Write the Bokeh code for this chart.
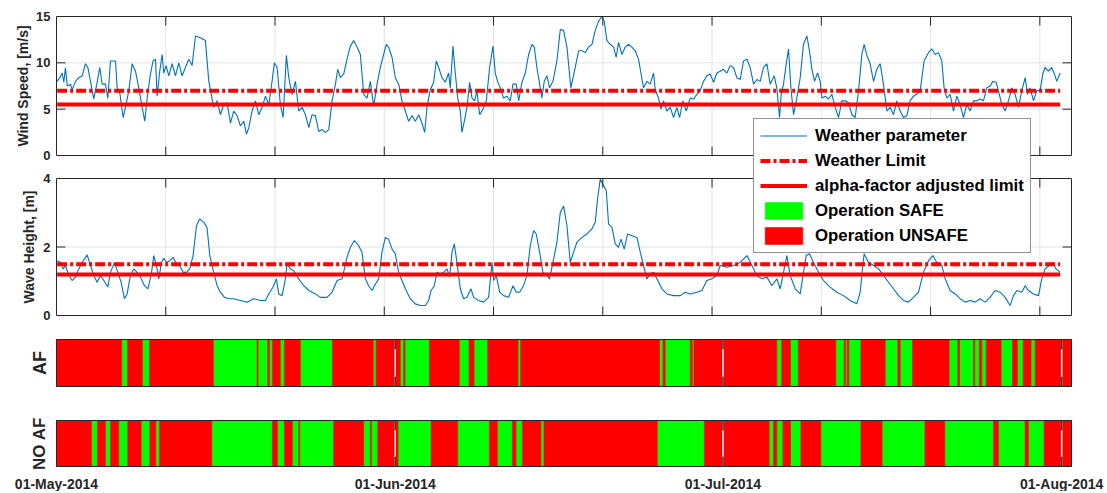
import numpy as np
import pandas as pd
from bokeh.plotting import figure
from bokeh.models import Range1d, Legend, LegendItem
from bokeh.core.properties import value
from bokeh.embed import file_html
from bokeh.resources import INLINE

# ------------------------------------------------------------------ data
start_date = "2014-05-01"
end_day = 92.9  # days after start shown on the time axis

wind_day = [0.06, 0.30, 0.52, 0.67, 0.82, 0.98, 1.28, 1.43, 1.74, 2.04, 2.35, 2.65, 2.87, 3.11, 3.41, 3.72,
            3.96, 4.18, 4.48, 4.70, 4.94, 5.40, 5.55, 5.79, 6.10, 6.31, 6.62, 6.92, 7.23, 7.53, 7.84, 8.08,
            8.30, 8.60, 8.84, 9.06, 9.21, 9.45, 9.67, 9.82, 10.03, 10.28, 10.58, 10.89, 11.19, 11.50, 11.80,
            12.11, 12.41, 12.72, 13.17, 13.63, 13.94, 14.39, 14.70, 15.00, 15.31, 15.61, 15.92, 16.22, 16.53,
            16.83, 17.14, 17.38, 17.60, 17.90, 18.21, 18.51, 18.82, 19.12, 19.43, 19.73, 19.94, 20.19, 20.49,
            20.74, 21.04, 21.26, 21.56, 21.87, 22.17, 22.48, 22.78, 23.09, 23.39, 23.70, 24.00, 24.31, 24.61,
            24.92, 25.22, 25.53, 25.74, 25.98, 26.29, 26.59, 26.90, 27.20, 27.51, 27.81, 28.12, 28.42, 28.73,
            29.03, 29.34, 29.64, 29.94, 30.19, 30.40, 30.71, 31.01, 31.32, 31.62, 31.93, 32.23, 32.54, 32.84,
            33.15, 33.45, 33.70, 33.91, 34.21, 34.52, 34.76, 34.98, 35.28, 35.59, 35.89, 36.04, 36.29, 36.50,
            36.72, 36.96, 37.11, 37.33, 37.57, 37.81, 38.03, 38.27, 38.48, 38.73, 39.03, 39.34, 39.64, 39.95,
            40.16, 40.37, 40.62, 40.92, 41.23, 41.53, 41.78, 42.08, 42.30, 42.60, 42.91, 43.21, 43.52, 43.73,
            43.97, 44.22, 44.43, 44.64, 44.89, 45.13, 45.44, 45.80, 46.11, 46.41, 46.72, 47.08, 47.48, 47.79,
            48.09, 48.40, 48.70, 49.01, 49.31, 49.62, 49.92, 50.13, 50.38, 50.68, 50.99, 51.23, 51.44, 51.75,
            52.05, 52.36, 52.66, 52.97, 53.27, 53.49, 53.73, 54.04, 54.34, 54.65, 54.80, 55.10, 55.32, 55.56,
            55.87, 56.17, 56.48, 56.78, 57.03, 57.33, 57.64, 58.00, 58.31, 58.61, 58.92, 59.22, 59.53, 59.83,
            60.14, 60.44, 60.75, 61.05, 61.36, 61.66, 61.97, 62.27, 62.58, 62.88, 63.19, 63.49, 63.80, 64.10,
            64.41, 64.71, 65.02, 65.32, 65.69, 65.93, 66.18, 66.33, 66.54, 66.79, 67.00, 67.22, 67.46, 67.76,
            68.07, 68.37, 68.68, 68.92, 69.14, 69.38, 69.66, 69.90, 70.05, 70.36, 70.66, 70.97, 71.27, 71.58,
            71.88, 72.19, 72.49, 72.80, 73.10, 73.41, 73.71, 73.92, 74.17, 74.47, 74.78, 75.08, 75.39, 75.69,
            76.00, 76.30, 76.61, 76.91, 77.22, 77.52, 77.83, 78.13, 78.44, 78.74, 79.05, 79.41, 79.81, 80.12,
            80.42, 80.73, 81.03, 81.24, 81.49, 81.79, 82.10, 82.40, 82.71, 83.01, 83.32, 83.62, 83.93, 84.23,
            84.54, 84.84, 85.15, 85.45, 85.70, 86.00, 86.21, 86.52, 86.82, 87.13, 87.44, 87.74, 88.05, 88.35,
            88.66, 88.87, 89.11, 89.42, 89.72, 90.03, 90.27, 90.48, 90.79, 91.09, 91.34, 91.55, 91.86]
wind_speed = [8.0, 8.4, 8.9, 7.9, 9.5, 7.5, 7.7, 7.1, 8.0, 8.4, 8.6, 9.9, 9.5, 8.0, 6.1, 7.9,
              9.5, 7.7, 7.7, 6.2, 10.2, 10.2, 7.3, 6.8, 4.1, 5.2, 7.0, 9.9, 9.1, 7.3, 5.2, 3.7,
              6.2, 8.8, 10.2, 10.4, 6.4, 9.1, 10.9, 8.9, 9.7, 8.6, 9.9, 8.6, 10.0, 8.6, 9.5,
              10.4, 9.7, 12.9, 12.7, 12.4, 8.0, 5.2, 5.9, 4.4, 5.5, 5.7, 3.5, 4.8, 4.3,
              3.2, 3.7, 2.3, 3.0, 4.8, 5.9, 4.4, 5.2, 6.4, 5.5, 8.0, 10.0, 9.5, 5.5,
              4.1, 10.8, 8.4, 6.6, 8.0, 4.8, 5.2, 4.4, 3.0, 4.4, 4.3, 2.6, 2.8, 2.5,
              2.8, 5.9, 7.7, 9.3, 8.4, 8.8, 10.4, 11.8, 12.4, 11.7, 10.9, 6.6, 6.2, 8.0,
              5.3, 7.7, 9.5, 10.9, 12.0, 11.7, 10.6, 8.4, 7.7, 5.9, 4.8, 3.7, 4.3, 3.7,
              4.4, 3.5, 2.5, 5.2, 7.1, 7.9, 10.2, 9.5, 8.4, 7.9, 8.9, 7.3, 11.8, 8.9,
              6.2, 4.8, 2.5, 3.7, 5.2, 7.9, 6.2, 5.9, 7.0, 4.4, 5.0, 5.9, 9.5, 11.8,
              8.9, 8.0, 7.3, 6.2, 6.4, 5.9, 7.7, 7.7, 5.9, 7.9, 8.9, 10.9, 12.0, 11.7,
              9.5, 7.7, 6.2, 8.0, 8.6, 7.3, 8.0, 10.2, 13.6, 13.5, 11.7, 7.3, 9.5, 11.3,
              11.3, 11.1, 11.7, 12.0, 13.5, 14.5, 15.0, 14.5, 12.4, 12.0, 11.7, 10.6, 12.2, 10.9,
              11.7, 12.0, 11.7, 11.3, 10.4, 8.9, 7.3, 8.0, 7.7, 8.9, 7.1, 6.2, 5.0, 5.9,
              4.8, 5.2, 4.1, 5.2, 4.1, 5.9, 4.8, 6.2, 6.1, 6.6, 7.0, 8.0, 8.6, 8.8,
              7.9, 8.9, 9.1, 9.3, 8.9, 9.7, 9.5, 8.4, 8.2, 10.2, 10.4, 9.5, 7.7, 8.2,
              8.0, 9.5, 9.9, 7.7, 8.6, 7.3, 4.1, 6.6, 7.7, 9.9, 11.5, 7.3, 4.4, 6.2,
              8.4, 12.0, 12.9, 11.3, 9.3, 8.0, 8.9, 8.0, 6.2, 6.4, 6.1, 6.6, 5.2, 4.1,
              5.9, 5.9, 5.7, 4.4, 4.1, 7.0, 10.9, 12.0, 10.8, 9.9, 8.0, 9.3, 9.9, 7.7,
              4.8, 5.2, 4.4, 5.9, 4.8, 4.1, 4.3, 5.9, 6.4, 6.6, 7.0, 10.2, 11.1, 11.5,
              10.9, 11.1, 10.2, 7.3, 6.2, 6.6, 4.8, 6.4, 5.5, 4.1, 5.5, 4.8, 5.9, 5.9,
              6.1, 5.9, 7.3, 7.5, 8.0, 7.9, 7.0, 5.5, 4.8, 5.9, 7.3, 6.6, 5.2, 7.0,
              8.4, 6.6, 7.3, 5.9, 7.0, 7.0, 8.8, 9.5, 9.1, 9.5, 8.8, 8.0, 8.9]

wave_day = [0.06, 0.37, 0.61, 0.82, 1.13, 1.43, 1.74, 2.04, 2.44, 2.81, 3.11, 3.41, 3.72, 4.03, 4.33, 4.70,
            4.94, 5.31, 5.61, 5.92, 6.22, 6.46, 6.77, 7.07, 7.38, 7.68, 8.05, 8.36, 8.66, 8.90, 9.15, 9.36,
            9.61, 9.82, 10.06, 10.37, 10.67, 10.98, 11.28, 11.59, 11.89, 12.20, 12.50, 12.81, 13.11, 13.48,
            13.78, 14.03, 14.39, 14.70, 15.00, 15.37, 15.77, 16.22, 16.83, 17.44, 18.05, 18.66, 19.12, 19.43,
            19.82, 20.13, 20.34, 20.65, 20.95, 21.10, 21.41, 21.71, 22.17, 22.63, 23.09, 23.70, 24.15, 24.76,
            25.22, 25.68, 26.14, 26.59, 26.90, 27.26, 27.66, 27.96, 28.27, 28.57, 28.88, 29.19, 29.49, 29.79,
            30.10, 30.40, 30.71, 31.01, 31.32, 31.62, 31.93, 32.38, 32.84, 33.30, 33.76, 34.06, 34.28, 34.58,
            34.82, 35.13, 35.43, 35.74, 35.98, 36.20, 36.41, 36.65, 36.96, 37.26, 37.57, 37.93, 38.18, 38.64,
            39.09, 39.55, 39.86, 40.01, 40.25, 40.56, 40.92, 41.38, 41.78, 42.08, 42.39, 42.75, 43.06, 43.36,
            43.67, 43.91, 44.22, 44.52, 44.89, 45.13, 45.44, 45.80, 46.11, 46.41, 46.72, 47.02, 47.33, 47.63,
            48.09, 48.55, 49.01, 49.31, 49.52, 49.77, 50.01, 50.32, 50.53, 50.84, 51.14, 51.44, 51.66, 51.96,
            52.27, 52.66, 53.12, 53.43, 53.73, 54.04, 54.34, 54.65, 54.95, 55.41, 55.87, 56.48, 57.09, 57.54,
            58.00, 58.61, 59.07, 59.53, 59.98, 60.44, 60.75, 61.36, 61.97, 62.58, 63.19, 63.65, 64.10, 64.56,
            65.02, 65.48, 65.93, 66.24, 66.54, 66.85, 67.15, 67.61, 68.07, 68.37, 68.62, 68.92, 69.29, 69.75,
            70.20, 70.81, 71.42, 72.03, 72.64, 73.25, 73.56, 73.80, 73.92, 74.32, 74.78, 75.24, 75.69, 76.15,
            76.61, 77.07, 77.52, 77.98, 78.44, 78.90, 79.35, 79.81, 80.21, 80.57, 81.03, 81.34, 81.79, 82.25,
            82.71, 83.17, 83.62, 84.08, 84.54, 85.00, 85.45, 85.91, 86.37, 86.83, 87.28, 87.59, 87.89, 88.35,
            88.66, 88.96, 89.42, 89.88, 90.18, 90.48, 90.88, 91.18, 91.49, 91.86]
wave_height = [1.60, 1.55, 1.36, 1.46, 1.17, 1.02, 1.12, 1.36, 1.60, 1.77, 1.46, 1.17, 0.97, 1.17, 1.02, 0.83,
               1.26, 1.55, 1.26, 0.97, 0.49, 0.63, 1.17, 1.36, 1.26, 1.12, 0.87, 0.78, 1.17, 1.75, 1.46, 1.07,
               1.55, 1.67, 1.55, 1.60, 1.70, 1.51, 1.46, 1.26, 1.26, 1.36, 1.75, 2.62, 2.82, 2.72,
               2.57, 1.75, 1.26, 0.87, 0.68, 0.53, 0.49, 0.49, 0.44, 0.39, 0.49, 0.44, 0.44, 0.63,
               0.83, 1.07, 0.63, 0.58, 1.07, 1.51, 1.36, 1.31, 1.07, 0.87, 0.73, 0.63, 0.53, 0.53,
               0.68, 1.02, 1.07, 1.70, 1.99, 2.19, 2.04, 1.85, 1.07, 0.87, 0.73, 0.92, 1.07, 1.85,
               2.28, 2.23, 1.94, 1.80, 1.26, 1.02, 0.78, 0.49, 0.34, 0.29, 0.29, 0.44, 0.73, 0.87,
               1.26, 1.21, 1.26, 1.36, 1.12, 1.85, 2.09, 1.55, 0.78, 0.49, 0.53, 0.78, 0.53, 0.44,
               0.39, 0.53, 1.55, 1.02, 1.17, 0.68, 0.58, 0.53, 0.87, 0.68, 0.68, 0.87, 1.17, 2.04,
               2.48, 2.38, 1.85, 1.26, 1.17, 1.07, 1.55, 2.14, 3.01, 3.20, 2.62, 1.55, 1.85, 2.14,
               2.28, 2.38, 2.53, 2.72, 3.40, 3.98, 3.83, 3.64, 2.67, 2.57, 2.09, 1.99, 2.23, 1.94,
               2.38, 2.33, 2.28, 1.85, 1.46, 1.07, 1.21, 1.26, 1.07, 0.78, 0.63, 0.58, 0.58, 0.68,
               0.63, 0.68, 0.73, 1.02, 1.07, 1.17, 1.46, 1.41, 1.46, 1.55, 1.75, 1.46, 1.17, 1.07,
               1.12, 0.87, 1.07, 0.78, 1.26, 1.75, 1.17, 0.78, 0.63, 1.26, 1.75, 1.80, 1.55, 1.26,
               1.02, 0.83, 0.68, 0.58, 0.44, 0.34, 0.68, 1.46, 1.80, 1.55, 1.46, 1.36, 1.17, 0.97,
               0.78, 0.58, 0.44, 0.39, 0.53, 0.68, 1.26, 1.60, 1.75, 1.55, 1.46, 1.07, 0.73, 0.63,
               0.49, 0.39, 0.44, 0.39, 0.49, 0.39, 0.53, 0.73, 0.68, 0.53, 0.29, 0.58, 0.73, 0.68,
               0.87, 0.73, 0.63, 0.58, 1.07, 1.36, 1.46, 1.55, 1.36, 1.26]

wind_limit = 7.0
wind_af_limit = 5.5
wave_limit = 1.5
wave_af_limit = 1.2

# operation state: day at which a state starts, 1 = SAFE, 0 = UNSAFE
af_switch_day = [0.00, 5.97, 6.50, 7.87, 8.51, 14.36, 18.36, 18.45, 19.33, 19.49, 19.76, 20.49, 20.86, 22.32,
                 25.25, 29.00, 29.25, 31.47, 31.78, 31.90, 34.13, 36.87, 37.76, 38.22, 39.46, 42.24, 42.48,
                 55.20, 55.51, 55.72, 58.00, 58.19, 58.34, 65.93, 66.36, 67.18, 67.89, 71.33, 72.09, 72.21,
                 72.37, 72.52, 73.62, 75.85, 77.00, 77.22, 78.34, 81.70, 82.50, 82.65, 83.93, 84.05, 84.47,
                 84.69, 85.09, 86.46, 87.50, 87.95, 88.47, 89.20, 89.57]
af_safe = [0, 1, 0, 1, 0, 1, 0, 1, 0, 1, 0, 1, 0, 1,
           0, 1, 0, 1, 0, 1, 0, 1, 0, 1, 0, 1, 0,
           1, 0, 1, 0, 1, 0, 1, 0, 1, 0, 1, 0, 1,
           0, 1, 0, 1, 0, 1, 0, 1, 0, 1, 0, 1, 0,
           1, 0, 1, 0, 1, 0, 1, 0]
noaf_switch_day = [0.00, 3.20, 3.75, 4.48, 4.94, 5.70, 6.52, 7.75, 8.54, 9.09, 9.42, 14.21, 19.76, 20.22,
                   20.86, 21.59, 22.17, 22.26, 25.37, 28.12, 28.73, 28.82, 29.40, 31.26, 34.28, 36.72, 39.62,
                   40.35, 41.72, 42.06, 42.64, 44.34, 44.62, 54.99, 59.29, 65.23, 65.63, 65.93, 66.48, 67.18,
                   68.13, 69.96, 73.62, 75.57, 79.48, 81.31, 85.76, 86.21, 88.65, 88.96, 90.39]
noaf_safe = [0, 1, 0, 1, 0, 1, 0, 1, 0, 1, 0, 1, 0, 1,
             0, 1, 0, 1, 0, 1, 0, 1, 0, 1, 0, 1, 0,
             1, 0, 1, 0, 1, 0, 1, 0, 1, 0, 1, 0, 1,
             0, 1, 0, 1, 0, 1, 0, 1, 0, 1, 0]

grid_days = [10, 20, 30, 40, 50, 60, 70, 80, 90]
month_ticks = ["2014-05-01", "2014-06-01", "2014-07-01", "2014-08-01"]
wind_ticks = [0, 5, 10, 15]
wave_ticks = [0, 2, 4]
panel_titles = {"wind": "Wind Speed, [m/s]", "wave": "Wave Height, [m]", "af": "AF", "noaf": "NO AF"}

# ------------------------------------------------------------------ helpers
EPOCH = pd.Timestamp("1970-01-01")
T0_MS = (pd.Timestamp(start_date) - EPOCH) / pd.Timedelta(milliseconds=1)
DAY_MS = 86400000.0


def ms(days):
    return T0_MS + np.asarray(days, dtype=float) * DAY_MS


FONT = "Liberation Sans"
TXT = "#262626"
BLUE = "#0072BD"
RED = "#FF0000"
GREEN = "#00FF00"
GRIDC = "#E3E3E3"

# ------------------------------------------------------------------ figure (frame = whole canvas)
W, H = 1105, 491
AX_L, AX_R = 56, 1071          # left / right pixel of the time axes
x0 = float(ms(0.0))
x1 = float(ms(end_day))
x_per_px = (x1 - x0) / (AX_R - AX_L)

p = figure(width=W, height=H, output_backend="svg", toolbar_location=None,
           x_range=Range1d(x0 - AX_L * x_per_px, x0 + (W - AX_L) * x_per_px),
           y_range=Range1d(0, H),
           x_axis_type=None, y_axis_type=None, title=None,
           min_border_left=0, min_border_right=0, min_border_top=0, min_border_bottom=0)
p.outline_line_color = None
p.background_fill_color = "white"
p.border_fill_color = "white"

# panels: name, top px, bottom px (from canvas top), data low, data high
panels = [("wind", 16, 155, 0.0, 15.0), ("wave", 178, 315, 0.0, 4.0),
          ("af", 339, 386, 0.0, 1.0), ("noaf", 420, 466, 0.0, 1.0)]
ranges = {}
for name, t, b, lo, hi in panels:
    pb = H - b
    pt = H - t
    s = (hi - lo) / (pt - pb)
    ranges[name] = Range1d(lo - pb * s, lo + (H - pb) * s)
p.extra_y_ranges = ranges
pinfo = {name: (t, b, lo, hi) for name, t, b, lo, hi in panels}
gx = ms(grid_days)
ng = len(gx)

# grid lines (upper panels)
for name, ticks in [("wind", wind_ticks), ("wave", wave_ticks)]:
    t, b, lo, hi = pinfo[name]
    inner = [v for v in ticks if lo < v < hi]
    p.segment(x0=[x0] * len(inner), x1=[x1] * len(inner), y0=inner, y1=inner,
              y_range_name=name, line_color=GRIDC, line_width=1)
    p.segment(x0=gx, x1=gx, y0=[lo] * ng, y1=[hi] * ng,
              y_range_name=name, line_color=GRIDC, line_width=1)

# operation bars
legend_bars = {}
for name, sw, st in [("af", af_switch_day, af_safe), ("noaf", noaf_switch_day, noaf_safe)]:
    rights = list(sw[1:]) + [end_day]
    for flag, col in [(1, GREEN), (0, RED)]:
        L = [l for l, s in zip(sw, st) if s == flag]
        R = [r for r, s in zip(rights, st) if s == flag]
        r = p.quad(left=ms(L), right=ms(R), bottom=0, top=1, y_range_name=name,
                   fill_color=col, line_color=col, line_width=0.6)
        if name == "af":
            legend_bars[flag] = r

# weather series
r_wind = p.line(ms(wind_day), wind_speed, y_range_name="wind", line_color=BLUE, line_width=1.1)
p.line(ms(wave_day), wave_height, y_range_name="wave", line_color=BLUE, line_width=1.1)

wx = ms([wind_day[0], wind_day[-1]])
r_lim = p.line(wx, [wind_limit] * 2, y_range_name="wind", line_color=RED, line_width=4,
               line_dash="10 3 3 3")
r_aff = p.line(wx, [wind_af_limit] * 2, y_range_name="wind", line_color=RED, line_width=4)
vx = ms([wave_day[0], wave_day[-1]])
p.line(vx, [wave_limit] * 2, y_range_name="wave", line_color=RED, line_width=4, line_dash="10 3 3 3")
p.line(vx, [wave_af_limit] * 2, y_range_name="wave", line_color=RED, line_width=4)

# tick marks (inward)
TL = 9
for name, ticks in [("wind", wind_ticks), ("wave", wave_ticks)]:
    t, b, lo, hi = pinfo[name]
    upp = (hi - lo) / (b - t)
    p.segment(x0=gx, x1=gx, y0=[hi] * ng, y1=[hi - TL * upp] * ng, y_range_name=name,
              line_color=TXT, line_width=1)
    p.segment(x0=gx, x1=gx, y0=[lo] * ng, y1=[lo + TL * upp] * ng, y_range_name=name,
              line_color=TXT, line_width=1)
    inner = [v for v in ticks if lo < v < hi]
    k = len(inner)
    p.segment(x0=[x0] * k, x1=[x0 + TL * x_per_px] * k, y0=inner, y1=inner, y_range_name=name,
              line_color=TXT, line_width=1)
    p.segment(x0=[x1] * k, x1=[x1 - TL * x_per_px] * k, y0=inner, y1=inner, y_range_name=name,
              line_color=TXT, line_width=1)

month_ms = [(pd.Timestamp(d) - EPOCH) / pd.Timedelta(milliseconds=1) for d in month_ticks]
mx = [m for m in month_ms if x0 < m < x1]
nm = len(mx)
for name in ["af", "noaf"]:
    t, b, lo, hi = pinfo[name]
    upp = (hi - lo) / (b - t)
    p.segment(x0=mx, x1=mx, y0=[lo] * nm, y1=[hi] * nm, y_range_name=name,
              line_color="white", line_width=1.5)
    p.segment(x0=mx, x1=mx, y0=[hi] * nm, y1=[hi - 10 * upp] * nm, y_range_name=name,
              line_color="#333333", line_width=1.5)
    p.segment(x0=mx, x1=mx, y0=[lo] * nm, y1=[lo + 10 * upp] * nm, y_range_name=name,
              line_color="#333333", line_width=1.5)

# panel borders
for name, t, b, lo, hi in panels:
    p.quad(left=[x0], right=[x1], bottom=[lo], top=[hi], y_range_name=name,
           fill_color=None, line_color=TXT, line_width=1)

# y tick labels
for name, ticks in [("wind", wind_ticks), ("wave", wave_ticks)]:
    p.text(x=[x0] * len(ticks), y=ticks, text=[str(v) for v in ticks], y_range_name=name,
           x_offset=-6, text_align="right", text_baseline="middle", text_font=value(FONT),
           text_font_size=value("13px"), text_font_style=value("bold"), text_color=TXT)

# panel titles (rotated)
for name, off, size in [("wind", -34, "14px"), ("wave", -28, "14px"),
                        ("af", -17, "18px"), ("noaf", -17, "17px")]:
    t, b, lo, hi = pinfo[name]
    p.text(x=[x0], y=[(lo + hi) / 2.0], text=[panel_titles[name]], y_range_name=name,
           x_offset=off, angle=np.pi / 2, text_align="center", text_baseline="middle",
           text_font=value(FONT), text_font_size=value(size), text_font_style=value("bold"),
           text_color=TXT)

# date labels under the last panel
date_text = [pd.Timestamp(d).strftime("%d-%b-%Y") for d in month_ticks]
p.text(x=month_ms, y=[H - 483.5] * len(month_ms), text=date_text,
       text_align="center", text_baseline="middle", text_font=value(FONT),
       text_font_size=value("14px"), text_font_style=value("bold"), text_color=TXT)

# legend
legend = Legend(items=[LegendItem(label="Weather parameter", renderers=[r_wind]),
                       LegendItem(label="Weather Limit", renderers=[r_lim]),
                       LegendItem(label="alpha-factor adjusted limit", renderers=[r_aff]),
                       LegendItem(label="Operation SAFE", renderers=[legend_bars[1]]),
                       LegendItem(label="Operation UNSAFE", renderers=[legend_bars[0]])],
                location=(753, H - 253), orientation="vertical", margin=0, padding=6, spacing=4,
                glyph_width=47, glyph_height=21, label_height=21, label_standoff=8,
                label_text_font=FONT, label_text_font_size="16.8px", label_text_font_style="bold",
                label_text_color="black", border_line_color=TXT, border_line_width=1,
                background_fill_color="white", background_fill_alpha=1.0)
p.add_layout(legend)

open("out.html", "w").write(file_html(p, INLINE))
